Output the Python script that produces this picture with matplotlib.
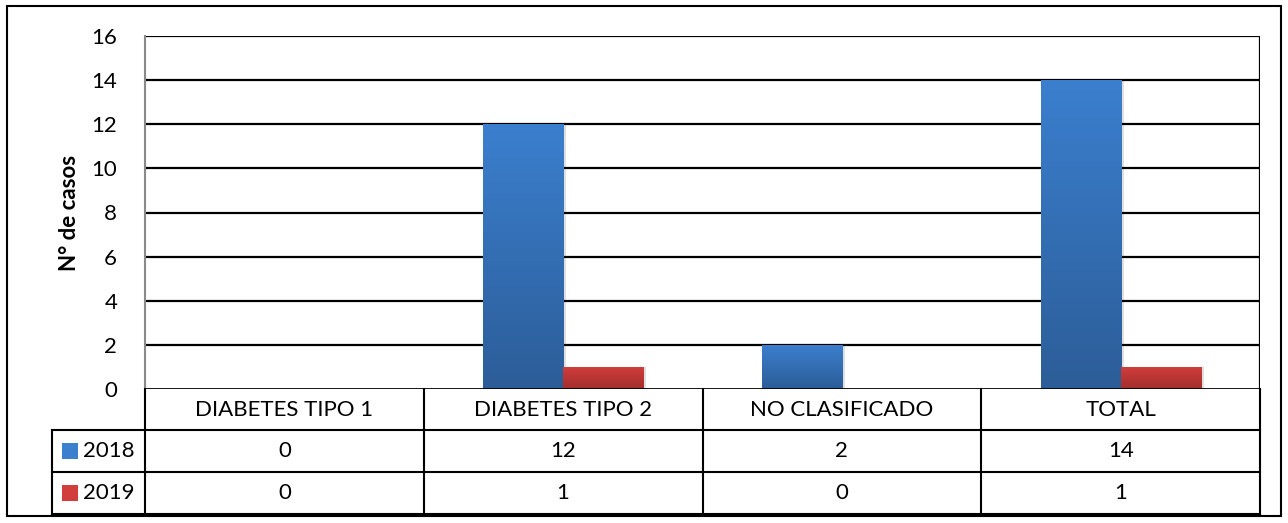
import numpy as np
import matplotlib.pyplot as plt
from matplotlib.lines import Line2D
from matplotlib.patches import Rectangle
from matplotlib.colors import LinearSegmentedColormap

plt.rcParams['font.family'] = ['Lato', 'DejaVu Sans']

# datos
categorias = ['DIABETES TIPO 1', 'DIABETES TIPO 2', 'NO CLASIFICADO', 'TOTAL']
anios = ['2018', '2019']
casos_2018 = [0, 12, 2, 14]
casos_2019 = [0, 1, 0, 1]
series = [casos_2018, casos_2019]
colores = [('#3B7FCE', '#2C5D98'), ('#D13E3C', '#A32E2D')]

W, H = 1288, 523
fig = plt.figure(figsize=(W / 100, H / 100), dpi=100)

def fx(px):
    return px / W

def fy(py):
    return 1 - py / H

# marco exterior
fig.add_artist(Rectangle((fx(7), fy(516)), fx(1281) - fx(7), fy(6) - fy(516),
                         transform=fig.transFigure, fill=False, ec='black', lw=1.5))

x0, x1, y_top, y_bot = 145, 1260, 36, 389
ax = fig.add_axes([fx(x0), fy(y_bot), fx(x1) - fx(x0), fy(y_top) - fy(y_bot)])
ax.set_xlim(-0.5, len(categorias) - 0.5)
ax.set_ylim(0, 16)
ax.set_yticks(range(0, 17, 2))
ax.set_xticks([])
ax.tick_params(axis='y', length=0, labelsize=16, pad=20)
for s in ['top', 'bottom', 'right']:
    ax.spines[s].set_visible(False)
ax.spines['left'].set_color('#8a8a8a')
ax.spines['left'].set_linewidth(1.5)
for v in range(2, 17, 2):
    ax.axhline(v, color='black', lw=1.6, zorder=1)
ax.axhline(0, color='black', lw=2, zorder=4)
ax.axvline(len(categorias) - 0.5, color='black', lw=1.6, zorder=1)
ax.set_ylabel('N° de casos', fontsize=16, fontweight='bold', labelpad=8)

# barras con degradado vertical
ancho = 0.287
x = np.arange(len(categorias))
grad = np.linspace(1, 0, 256).reshape(-1, 1)
for i, (vals, (c_top, c_bot)) in enumerate(zip(series, colores)):
    cmap = LinearSegmentedColormap.from_list('g%d' % i, [c_bot, c_top])
    offs = (i - 0.5) * ancho
    for xi, v in zip(x, vals):
        if v <= 0:
            continue
        left = xi + offs - ancho / 2
        sombra = Rectangle((left + 0.012, 0), ancho, v, fc='#000000', alpha=0.12,
                           ec='none', zorder=2)
        ax.add_patch(sombra)
        bar = ax.bar(xi + offs, v, ancho, color=c_top, zorder=3)[0]
        img = ax.imshow(grad, cmap=cmap, aspect='auto', zorder=3,
                        extent=(left, left + ancho, 0, v))
        img.set_clip_path(bar)
ax.set_xlim(-0.5, len(categorias) - 0.5)
ax.set_ylim(0, 16)

# tabla de datos
col_edges = np.linspace(x0, x1, len(categorias) + 1)
row_y = [389, 430, 472, 514]
lab_x = 52

def hline(xa, xb, y, lw=1.5):
    fig.add_artist(Line2D([fx(xa), fx(xb)], [fy(y), fy(y)], color='black', lw=lw,
                          transform=fig.transFigure))

def vline(x_, ya, yb, lw=1.5):
    fig.add_artist(Line2D([fx(x_), fx(x_)], [fy(ya), fy(yb)], color='black', lw=lw,
                          transform=fig.transFigure))

hline(lab_x, x1, row_y[1])
hline(lab_x, x1, row_y[2])
hline(lab_x, x1, row_y[3])
vline(lab_x, row_y[1], row_y[3])
for ce in col_edges:
    vline(ce, row_y[0], row_y[3])

for j, cat in enumerate(categorias):
    cx = (col_edges[j] + col_edges[j + 1]) / 2
    fig.text(fx(cx), fy((row_y[0] + row_y[1]) / 2), cat, ha='center', va='center',
             fontsize=16)
    for r, vals in enumerate(series):
        fig.text(fx(cx), fy((row_y[r + 1] + row_y[r + 2]) / 2), str(vals[j]),
                 ha='center', va='center', fontsize=16)

for r, (anio, (c_top, c_bot)) in enumerate(zip(anios, colores)):
    yc = (row_y[r + 1] + row_y[r + 2]) / 2
    fig.add_artist(Rectangle((fx(62), fy(yc + 8)), fx(16), fy(0) - fy(16),
                             transform=fig.transFigure, fc=c_top, ec='none'))
    fig.text(fx(83), fy(yc), anio, ha='left', va='center', fontsize=16)

fig.savefig('out.png', dpi=100)
